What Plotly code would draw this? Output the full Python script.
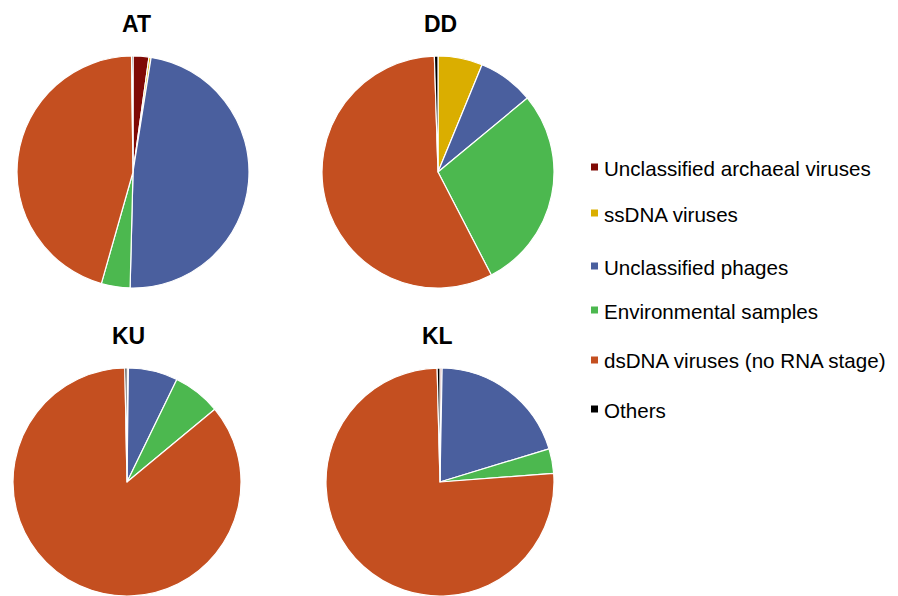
import plotly.graph_objects as go

categories = ["Unclassified archaeal viruses", "ssDNA viruses", "Unclassified phages",
              "Environmental samples", "dsDNA viruses (no RNA stage)", "Others"]
colors = ["#7F0A05", "#DAAE00", "#4A5F9E", "#4CB84F", "#C44F20", "#000000"]

sites = ["AT", "DD", "KU", "KL"]
AT = [2.2, 0.3, 47.9, 4.0, 45.4, 0.2]
DD = [0.0, 6.2, 7.8, 28.4, 57.1, 0.5]
KU = [0.2, 0.0, 7.0, 6.8, 85.7, 0.3]
KL = [0.3, 0.0, 20.0, 3.5, 75.8, 0.4]
values = [AT, DD, KU, KL]

OFF = 8  # page body margin
W, H = 898 - OFF, 596 - OFF
# pie centers (screen px) and radius
centers = [(133, 172), (438, 172), (127, 482), (440, 482)]
titles_xy = [(136, 24), (440, 24), (128, 336), (437, 336)]
R = 116


def px(x):
    return (x - OFF) / W


def py(y):
    return 1 - (y - OFF) / H


fig = go.Figure()
for name, vals, (cx, cy), (tx, ty) in zip(sites, values, centers, titles_xy):
    r = R if cy < 300 else 114
    x0, x1 = px(cx - r), px(cx + r)
    y0, y1 = py(cy + r), py(cy - r)
    y0 = max(y0, 0.0)
    fig.add_trace(go.Pie(
        labels=categories, values=vals, sort=False, direction="clockwise", rotation=0,
        marker=dict(colors=colors, line=dict(color="white", width=1.2)),
        textinfo="none", showlegend=False, name=name,
        domain=dict(x=[x0, x1], y=[y0, y1]),
    ))
    fig.add_annotation(text="<b>%s</b>" % name, x=px(tx), y=py(ty),
                       xref="paper", yref="paper", showarrow=False,
                       xanchor="center", yanchor="middle",
                       font=dict(size=23, color="black", family="Liberation Sans, Arial"))

# custom legend
leg_y = [167, 213, 266, 310, 360, 409]
for cat, col, ly in zip(categories, colors, leg_y):
    fig.add_shape(type="rect", xref="paper", yref="paper",
                  x0=px(591), x1=px(598), y0=py(ly + 3.5), y1=py(ly - 3.5),
                  fillcolor=col, line=dict(width=0))
    fig.add_annotation(text=cat, x=px(602), y=py(ly + 1), xref="paper", yref="paper",
                       xanchor="left", yanchor="middle", showarrow=False,
                       font=dict(size=20.6, color="black", family="Liberation Sans, Arial"))

fig.update_layout(width=W, height=H, margin=dict(l=0, r=0, t=0, b=0),
                  paper_bgcolor="white", plot_bgcolor="white", showlegend=False)
fig.write_html("out.html")
